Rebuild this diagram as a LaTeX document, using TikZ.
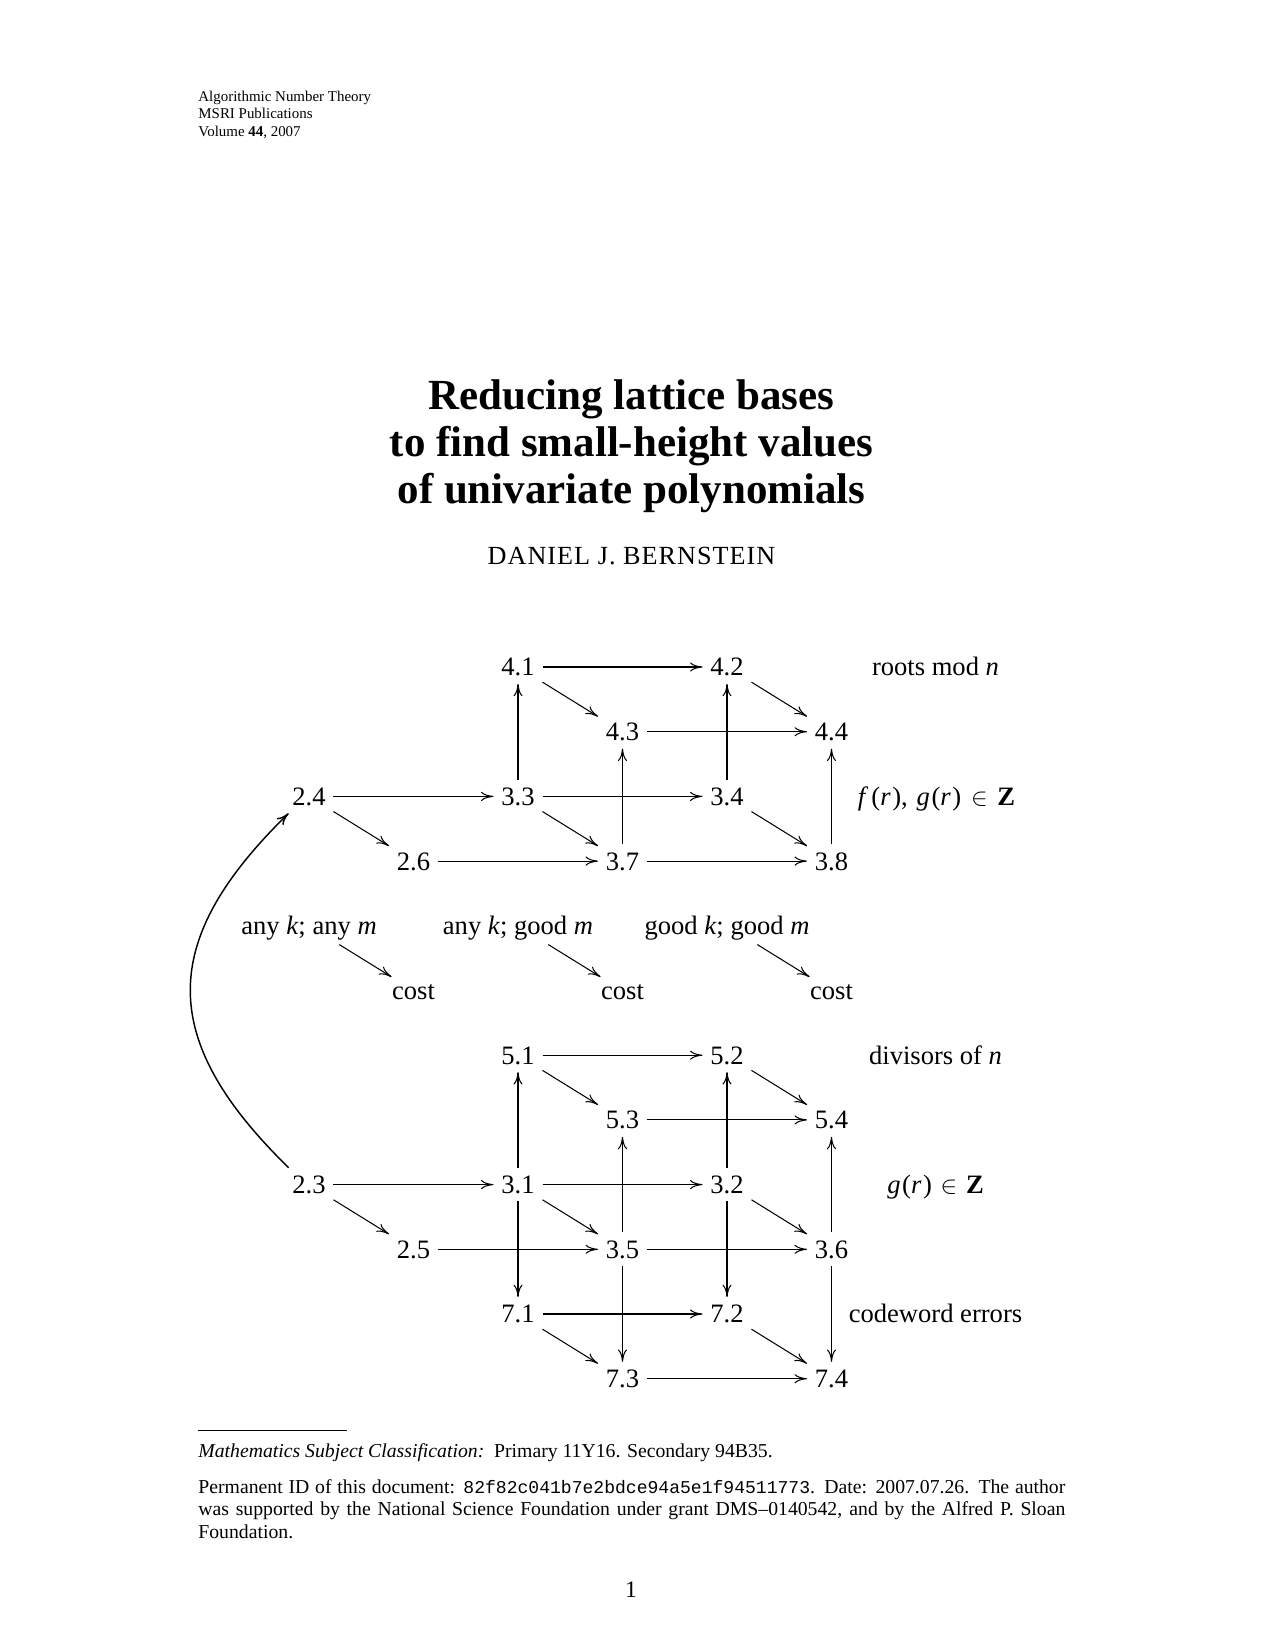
\documentclass[tikz,border=0pt]{standalone}
\usepackage{fontspec}
\setmainfont{Liberation Serif}
\setmonofont{Liberation Mono}
\newfontfamily\authorfont[LetterSpace=4.0]{Liberation Serif}
\usetikzlibrary{arrows.meta,calc}
\begin{document}
\begin{tikzpicture}[x=0.4818pt,y=-0.4818pt,
  cell/.style={inner sep=3.6pt,text height=8.65pt,text depth=0pt,font=\fontsize{12.8}{15}\selectfont},
  arr/.style={line width=0.5pt,-{Computer Modern Rightarrow[length=6pt,width=4.4pt]}},
  curvearr/.style={line width=0.7pt,-{Computer Modern Rightarrow[length=6pt,width=4.6pt]}},
  hdr/.style={anchor=base west,inner sep=0pt,font=\fontsize{7.2}{8.3}\selectfont},
  ttl/.style={anchor=base,inner sep=0pt,font=\fontsize{20.7}{22.6}\selectfont\bfseries},
  fn/.style={anchor=base west,inner sep=0pt,font=\fontsize{9.5}{10.8}\selectfont}]
\path[use as bounding box,fill=white] (0,0) rectangle (1275,1650);

% header
\node[hdr] (h1) at (198,101.4) {Algorithmic Number Theory};
\node[hdr] (h2) at (198,118.8) {MSRI Publications};
\node[hdr] (h3) at (198,136.1) {Volume \textbf{44}, 2007};

% title
\node[ttl] (t1) at (631.5,409.3) {Reducing lattice bases};
\node[ttl] (t2) at (631.5,456.7) {to find small-height values};
\node[ttl] (t3) at (631.5,503.3) {of univariate polynomials};
\node[anchor=base,inner sep=0pt,font=\fontsize{12.6}{15}\authorfont] (au) at (631.5,564) {DANIEL J. BERNSTEIN};

% upper cube
\node[cell] (n41) at (518,667) {4.1};
\node[cell] (n42) at (727,667) {4.2};
\node[cell] (n43) at (622.5,731.7) {4.3};
\node[cell] (n44) at (831.5,731.7) {4.4};
\node[cell] (n24) at (309,796.4) {2.4};
\node[cell] (n33) at (518,796.4) {3.3};
\node[cell] (n34) at (727,796.4) {3.4};
\node[cell] (n26) at (413.5,861.1) {2.6};
\node[cell] (n37) at (622.5,861.1) {3.7};
\node[cell] (n38) at (831.5,861.1) {3.8};
\node[cell] (roots) at (935.5,667) {roots mod \textit{n}};
\node[cell] (fgz) at (936.5,796.4) {\textit{f}\kern1.5pt(\textit{r}\kern0.8pt),\kern1pt{} \textit{g}\kern0.8pt(\textit{r}\kern0.8pt)\kern1.5pt~$\in$~\kern1.5pt\textbf{Z}};

% middle
\node[cell] (l0) at (309,925.8) {any \textit{k}; any \textit{m}};
\node[cell] (l2) at (518,925.8) {any \textit{k}; good \textit{m}};
\node[cell] (l4) at (727,925.8) {good \textit{k}; good \textit{m}};
\node[cell] (k1) at (413.5,990.5) {cost};
\node[cell] (k3) at (622.5,990.5) {cost};
\node[cell] (k5) at (831.5,990.5) {cost};

% lower cube
\node[cell] (n51) at (518,1055.2) {5.1};
\node[cell] (n52) at (727,1055.2) {5.2};
\node[cell] (n53) at (622.5,1119.9) {5.3};
\node[cell] (n54) at (831.5,1119.9) {5.4};
\node[cell] (n23) at (309,1184.6) {2.3};
\node[cell] (n31) at (518,1184.6) {3.1};
\node[cell] (n32) at (727,1184.6) {3.2};
\node[cell] (n25) at (413.5,1249.3) {2.5};
\node[cell] (n35) at (622.5,1249.3) {3.5};
\node[cell] (n36) at (831.5,1249.3) {3.6};
\node[cell] (n71) at (518,1314) {7.1};
\node[cell] (n72) at (727,1314) {7.2};
\node[cell] (n73) at (622.5,1378.7) {7.3};
\node[cell] (n74) at (831.5,1378.7) {7.4};
\node[cell] (div) at (935.5,1055.2) {divisors of \textit{n}};
\node[cell] (gz) at (935.5,1184.6) {\textit{g}\kern0.8pt(\textit{r}\kern0.8pt)\kern1pt~$\in$~\kern1pt\textbf{Z}};
\node[cell] (cw) at (935.5,1314) {codeword errors};

% upper arrows
\draw[arr] (n41) -- (n42);
\draw[arr] (n41) -- (n43);
\draw[arr] (n42) -- (n44);
\draw[arr] (n43) -- (n44);
\draw[arr] (n33) -- (n41);
\draw[arr] (n34) -- (n42);
\draw[arr] (n37) -- (n43);
\draw[arr] (n38) -- (n44);
\draw[arr] (n24) -- (n33);
\draw[arr] (n33) -- (n34);
\draw[arr] (n24) -- (n26);
\draw[arr] (n33) -- (n37);
\draw[arr] (n34) -- (n38);
\draw[arr] (n26) -- (n37);
\draw[arr] (n37) -- (n38);

% middle arrows
\draw[arr] ($(l0)!0.29!(k1)$) -- ($(l0)!0.79!(k1)$);
\draw[arr] ($(l2)!0.29!(k3)$) -- ($(l2)!0.79!(k3)$);
\draw[arr] ($(l4)!0.29!(k5)$) -- ($(l4)!0.79!(k5)$);

% lower arrows
\draw[arr] (n51) -- (n52);
\draw[arr] (n51) -- (n53);
\draw[arr] (n52) -- (n54);
\draw[arr] (n53) -- (n54);
\draw[arr] (n31) -- (n51);
\draw[arr] (n32) -- (n52);
\draw[arr] (n35) -- (n53);
\draw[arr] (n36) -- (n54);
\draw[arr] (n23) -- (n31);
\draw[arr] (n31) -- (n32);
\draw[arr] (n23) -- (n25);
\draw[arr] (n31) -- (n35);
\draw[arr] (n32) -- (n36);
\draw[arr] (n25) -- (n35);
\draw[arr] (n35) -- (n36);
\draw[arr] (n31) -- (n71);
\draw[arr] (n32) -- (n72);
\draw[arr] (n35) -- (n73);
\draw[arr] (n36) -- (n74);
\draw[arr] (n71) -- (n72);
\draw[arr] (n71) -- (n73);
\draw[arr] (n72) -- (n74);
\draw[arr] (n73) -- (n74);

% curved arrow
\draw[curvearr] ([xshift=2pt]n23.north west) .. controls +(-131,-128) and +(-131,128) .. ([xshift=2pt]n24.south west);

% footnote
\coordinate (rl) at (198,1430);
\coordinate (rr) at (347,1430);
\draw[line width=0.45pt] (rl) -- (rr);
\node[fn] (f1) at (198,1457.3) {\textit{Mathematics Subject Classification:}\ \ Primary 11Y16. Secondary 94B35.};
\node[fn] (f2) at (198,1493.3) {\makebox[417.7pt][s]{Permanent ID of this document: {\fontsize{8.7}{10}\ttfamily 82f82c041b7e2bdce94a5e1f94511773}. Date: 2007.07.26. The author}};
\node[fn] (f3) at (198,1515.8) {\makebox[417.7pt][s]{was supported by the National Science Foundation under grant DMS--0140542, and by the Alfred P. Sloan}};
\node[fn] (f4) at (198,1538.3) {Foundation.};

% page number
\node[anchor=base,inner sep=0pt,font=\fontsize{11.4}{13}\selectfont] (pg) at (631,1597.7) {1};
\end{tikzpicture}
\end{document}
